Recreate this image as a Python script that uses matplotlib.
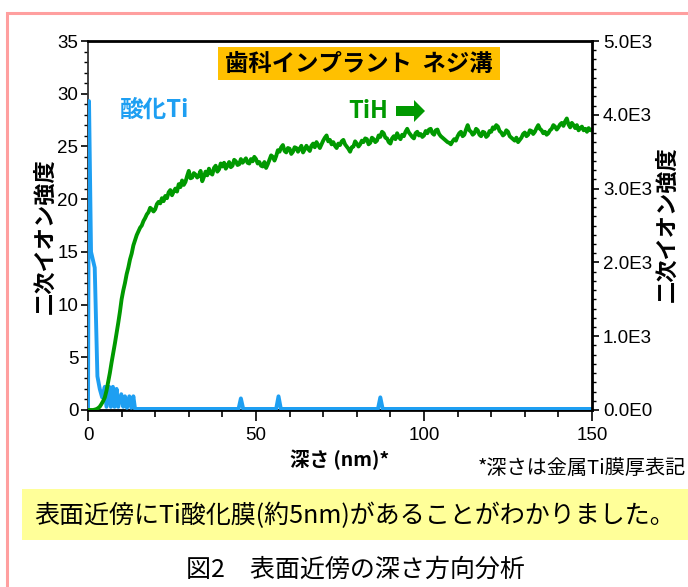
import matplotlib
matplotlib.use('Agg')
import matplotlib.pyplot as plt
from matplotlib.patches import Rectangle, Polygon
from matplotlib.ticker import MultipleLocator, FuncFormatter
import numpy as np

# 酸化Ti (left axis)
depth_ox = [0.0, 0.3, 0.9, 2.0, 2.8, 3.5, 4.2, 5.0, 5.5, 6.3, 6.8, 7.4, 7.9,
            8.5, 9.0, 9.9, 10.5, 11.0, 11.6, 12.3, 12.9, 13.5, 14.0,
            44.8, 45.5, 46.2, 56.0, 56.7, 57.4, 86.3, 87.0, 87.7, 150.0]
ox_vals = [0.0, 29.3, 15.0, 13.5, 3.2, 2.0, 1.2, 2.2, 0.3, 2.2, 0.3, 2.2, 0.3,
           2.0, 0.3, 1.5, 0.3, 1.3, 0.2, 1.3, 0.2, 1.3, 0.1,
           0.1, 1.1, 0.1, 0.1, 1.3, 0.1, 0.1, 1.2, 0.1, 0.1]

# TiH (right axis), 0.5 nm steps from 0 to 150
tih_vals = [
    0, 0, 0, 0, 5, 12, 25, 45, 80, 120,
    170, 260, 380, 500, 640, 770, 900, 1040, 1180, 1330,
    1500, 1620, 1720, 1840, 1930, 2040, 2120, 2230, 2300, 2370,
    2420, 2470, 2500, 2560, 2600, 2650, 2680, 2740, 2720, 2690,
    2720, 2790, 2820, 2800, 2870, 2830, 2900, 2870, 2950, 2980,
    2910, 2960, 3000, 2960, 3060, 3020, 3110, 3050, 3090, 3170,
    3240, 3140, 3150, 3210, 3190, 3150, 3180, 3240, 3100, 3160,
    3230, 3180, 3270, 3210, 3190, 3280, 3310, 3230, 3260, 3340,
    3300, 3350, 3270, 3310, 3360, 3290, 3310, 3390, 3370, 3320,
    3330, 3400, 3350, 3380, 3410, 3350, 3340, 3400, 3370, 3430,
    3400, 3340, 3360, 3310, 3300, 3360, 3280, 3330, 3390, 3450,
    3430, 3380, 3440, 3520, 3500, 3560, 3590, 3510, 3490, 3550,
    3540, 3470, 3500, 3560, 3550, 3500, 3540, 3580, 3490, 3530,
    3580, 3540, 3510, 3580, 3610, 3560, 3630, 3590, 3550, 3600,
    3650, 3690, 3720, 3640, 3660, 3600, 3630, 3580, 3550, 3610,
    3590, 3640, 3660, 3600, 3570, 3540, 3500, 3560, 3570, 3640,
    3610, 3570, 3600, 3650, 3630, 3680, 3670, 3600, 3620, 3690,
    3670, 3630, 3650, 3720, 3700, 3770, 3750, 3690, 3680, 3630,
    3610, 3680, 3710, 3670, 3750, 3700, 3670, 3730, 3710, 3770,
    3810, 3760, 3730, 3700, 3680, 3750, 3770, 3720, 3740, 3700,
    3720, 3780, 3750, 3800, 3810, 3750, 3730, 3790, 3800, 3740,
    3710, 3690, 3670, 3650, 3630, 3620, 3600, 3640, 3670, 3650,
    3710, 3750, 3770, 3710, 3730, 3800, 3860, 3790, 3770, 3730,
    3750, 3810, 3790, 3730, 3710, 3770, 3760, 3700, 3720, 3780,
    3770, 3830, 3810, 3860, 3840, 3780, 3760, 3720, 3740, 3790,
    3770, 3710, 3690, 3670, 3650, 3690, 3630, 3660, 3690, 3740,
    3760, 3710, 3730, 3790, 3780, 3740, 3770, 3820, 3860, 3810,
    3790, 3750, 3770, 3730, 3750, 3790, 3810, 3860, 3840, 3800,
    3830, 3870, 3890, 3850, 3910, 3950, 3870, 3830, 3890, 3860,
    3820, 3860, 3790, 3820, 3840, 3790, 3810, 3770, 3820, 3790,
    3800]
depth_tih = np.linspace(0, 150, len(tih_vals))

x_ticks = [0, 50, 100, 150]
left_ticks = [0, 5, 10, 15, 20, 25, 30, 35]
right_ticks = [0, 1000, 2000, 3000, 4000, 5000]

BLUE = '#1e9ff2'
GREEN = '#009900'
JP = ['Noto Sans CJK JP', 'DejaVu Sans']

plt.rcParams['font.family'] = ['Liberation Sans', 'Noto Sans CJK JP', 'DejaVu Sans']

W, H = 688, 587


def fx(px):
    return px / W


def fy(py):
    return 1 - py / H


fig = plt.figure(figsize=(W / 100, H / 100), dpi=100)
fig.patch.set_facecolor('white')

ax = fig.add_axes([fx(88), fy(410), fx(592) - fx(88), fy(41) - fy(410)])
ax2 = ax.twinx()

ax.plot(depth_ox, ox_vals, color=BLUE, lw=2.8, solid_joinstyle='round', zorder=3)
ax2.plot(depth_tih, tih_vals, color=GREEN, lw=2.8, solid_joinstyle='round')

ax.set_xlim(0, 150)
ax.set_ylim(0, 35)
ax2.set_ylim(0, 5000)

ax.set_xticks(x_ticks)
ax.set_yticks(left_ticks)
ax2.set_yticks(right_ticks)
ax.xaxis.set_minor_locator(MultipleLocator(10))
ax.yaxis.set_minor_locator(MultipleLocator(1))
ax2.yaxis.set_minor_locator(MultipleLocator(125))
ax2.yaxis.set_major_formatter(FuncFormatter(
    lambda v, p: '0.0E0' if v == 0 else f'{v / 1000:.1f}E3'))

ax.tick_params(axis='x', which='major', direction='out', length=8, width=1.2,
               labelsize=13.5, pad=4)
ax.tick_params(axis='x', which='minor', direction='out', length=5, width=1.2)
ax.tick_params(axis='y', which='major', direction='out', length=5, width=1.2,
               labelsize=13.5, pad=2)
ax.tick_params(axis='y', which='minor', direction='out', length=3, width=1)
ax2.tick_params(axis='y', which='major', direction='out', length=5, width=1.2,
                labelsize=13.5, pad=3)
ax2.tick_params(axis='y', which='minor', direction='out', length=3, width=1)

for s in ['top', 'bottom']:
    ax.spines[s].set_linewidth(2)
ax.spines['left'].set_linewidth(1.3)
ax.spines['left'].set_color('#333333')
ax2.spines['right'].set_linewidth(2)
for s in ['top', 'bottom', 'left']:
    ax2.spines[s].set_visible(False)

ax.set_xlabel('深さ (nm)*', family=JP, fontweight='bold', fontsize=14, labelpad=4)
fig.text(fx(45), fy(236), '二次イオン強度', family=JP, fontweight='bold',
         fontsize=16, rotation=90, ha='center', va='center')
fig.text(fx(667), fy(224), '二次イオン強度', family=JP, fontweight='bold',
         fontsize=16, rotation=90, ha='center', va='center')

# title box
fig.patches.append(Rectangle((fx(218), fy(80)), fx(500) - fx(218), fy(47) - fy(80),
                             transform=fig.transFigure, facecolor='#ffc000',
                             edgecolor='none', zorder=5))
fig.text(fx(359), fy(64), '歯科インプラント  ネジ溝', family=JP, fontweight='bold',
         fontsize=16.8, ha='center', va='center', zorder=6)

# series labels
fig.text(fx(120), fy(110), '酸化Ti', family=JP, fontweight='bold', fontsize=17,
         color=BLUE, ha='left', va='center')
fig.text(fx(348), fy(111), 'TiH', family=JP, fontweight='bold', fontsize=17,
         color=GREEN, ha='left', va='center')
arrow_px = [(396, 106), (414, 106), (414, 100), (425, 111), (414, 122),
            (414, 116), (396, 116)]
fig.patches.append(Polygon([(fx(x), fy(y)) for x, y in arrow_px], closed=True,
                           transform=fig.transFigure, facecolor=GREEN,
                           edgecolor='none'))

fig.text(fx(686), fy(469), '*深さは金属Ti膜厚表記', family=JP, fontsize=14.5,
         ha='right', va='center')

# conclusion box
fig.patches.append(Rectangle((fx(22), fy(540)), 1.0, fy(489) - fy(540),
                             transform=fig.transFigure, facecolor='#ffff99',
                             edgecolor='none'))
fig.text(fx(355), fy(516), '表面近傍にTi酸化膜(約5nm)があることがわかりました。',
         family=JP, fontsize=18, ha='center', va='center')
fig.text(fx(355), fy(570), '図2　表面近傍の深さ方向分析', family=JP, fontsize=18,
         ha='center', va='center')

# pink frame
fig.patches.append(Rectangle((fx(7), -0.1), 1.0, fy(13) + 0.1,
                             transform=fig.transFigure, fill=False,
                             edgecolor='#ff9f9f', lw=2.2, clip_on=False))

fig.savefig('out.png', dpi=100)
